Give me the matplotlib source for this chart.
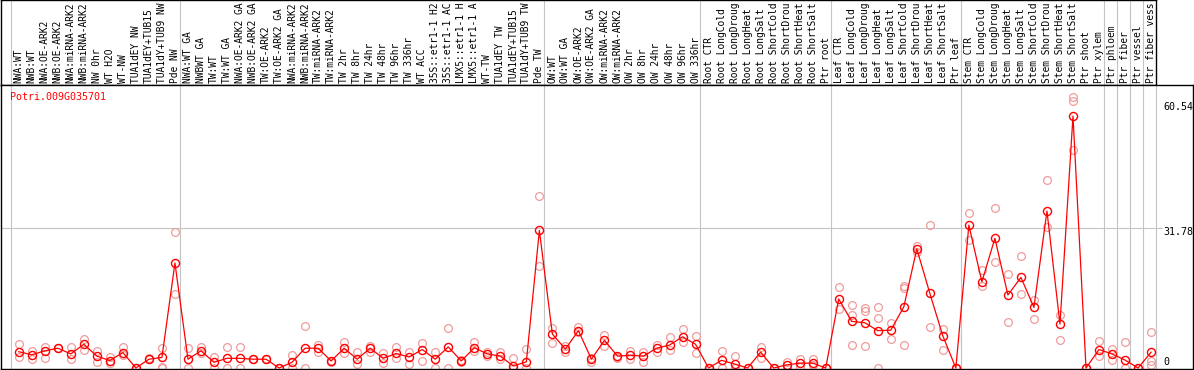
import matplotlib.pyplot as plt

gene = "Potri.009G035701"

# sample names as they show in the header (cut to the header height)
labels = [
    "NWA:WT", "NWB:WT", "NWA:OE-ARK2", "NWB:OE-ARK2", "NWA:miRNA-ARK2", "NWB:miRNA-ARK2",
    "NW 0hr", "WT H2O", "WT-NW", "TUA1dEY NW", "TUA1dEY+TUB15", "TUA1dY+TUB9 NW", "Pde NW",
    "NWA:WT GA", "NWBWT GA", "TW:WT", "TW:WT GA", "NWA:OE-ARK2 GA", "NWB:OE-ARK2 GA",
    "TW:OE-ARK2", "TW:OE-ARK2 GA", "NWA:miRNA-ARK2", "NWB:miRNA-ARK2", "TW:miRNA-ARK2",
    "TW:miRNA-ARK2", "TW 2hr", "TW 8hr", "TW 24hr", "TW 48hr", "TW 96hr", "TW 336hr", "WT ACC",
    "35S::etr1-1 H2", "35S::etr1-1 AC", "LMX5::etr1-1 H", "LMX5::etr1-1 A", "WT-TW",
    "TUA1dEY TW", "TUA1dEY+TUB15", "TUA1dY+TUB9 TW", "Pde TW",
    "OW:WT", "OW:WT GA", "OW:OE-ARK2", "OW:OE-ARK2 GA", "OW:miRNA-ARK2", "OW:miRNA-ARK2",
    "OW 2hr", "OW 8hr", "OW 24hr", "OW 48hr", "OW 96hr", "OW 336hr",
    "Root CTR", "Root LongCold", "Root LongDroug", "Root LongHeat", "Root LongSalt",
    "Root ShortCold", "Root ShortDrou", "Root ShortHeat", "Root ShortSalt", "Ptr root",
    "Leaf CTR", "Leaf LongCold", "Leaf LongDroug", "Leaf LongHeat", "Leaf LongSalt",
    "Leaf ShortCold", "Leaf ShortDrou", "Leaf ShortHeat", "Leaf ShortSalt", "Ptr leaf",
    "Stem CTR", "Stem LongCold", "Stem LongDroug", "Stem LongHeat", "Stem LongSalt",
    "Stem ShortCold", "Stem ShortDrou", "Stem ShortHeat", "Stem ShortSalt", "Ptr shoot",
    "Ptr xylem", "Ptr phloem", "Ptr fiber", "Ptr vessel", "Ptr fiber vess",
]

# mean expression per sample
means = [
    3.7, 3.0, 3.9, 4.5, 3.2, 5.4, 2.7, 1.7, 3.5, 0, 2.0, 2.4, 23.9,
    2.0, 3.9, 1.3, 2.2, 2.2, 2.0, 2.0, 0, 1.3, 4.5, 4.5, 1.6, 4.5, 2.0, 4.5, 2.2,
    3.3, 2.5, 4.2, 2.0, 4.8, 1.6, 4.6, 3.2, 2.7, 0.45, 1.4, 31.3,
    7.7, 4.3, 8.5, 2.0, 6.3, 2.7, 2.9, 2.7, 4.5, 5.2, 7.1, 5.4,
    0, 1.75, 0.9, 0, 3.6, 0, 0.7, 1.1, 1.1, 0,
    15.7, 10.6, 10.3, 8.5, 8.6, 13.9, 27.1, 17.0, 7.3, 0,
    32.5, 19.6, 29.5, 16.6, 20.6, 13.8, 35.7, 10.0, 57.3, 0, 4.2,
    3.2, 1.8, 0, 3.6,
]

# replicate values per sample
reps = [
    [5.5, 2.6], [3.9, 2.0], [4.8, 2.2], [4.5, 4.5], [4.8, 2.0], [6.6, 4.1], [3.9, 1.3],
    [2.4, 1.2], [4.8, 3.0], [0, 0], [2.0, 2.2], [4.6, 0.3, 0], [30.9, 16.8],
    [4.6, 0], [4.8, 3.4], [2.4, 0], [4.8, 0], [4.8, 0], [2.0, 2.0], [2.0, 2.0], [0, 0],
    [3.0, 0], [9.6, 0], [5.2, 3.7], [1.6, 1.4], [5.8, 3.3], [3.7, 0.8], [5.1, 3.7],
    [3.3, 1.1], [4.7, 2.2], [3.7, 0.8], [5.6, 1.7], [3.7, 0], [9.1, 0], [1.8, 1.4],
    [5.8, 3.9], [3.6, 2.7], [3.6, 2.0], [2.2, 0], [4.4, 0], [39.1, 23.3],
    [9.0, 5.6], [5.0, 3.6], [9.3, 8.3], [2.3, 1.4], [7.5, 5.0], [2.6, 2.3], [3.9, 2.0],
    [3.6, 1.4], [5.2, 3.6], [7.1, 4.2], [8.9, 6.0], [7.3, 3.3],
    [0, 0], [3.8, 0], [2.7, 0], [0, 0], [4.7, 2.2], [0, 0], [1.4, 0], [2.0, 0.2],
    [2.0, 0.6], [0, 0],
    [18.5, 13.4], [14.3, 12.0, 5.2], [13.7, 13.0, 5.0], [13.8, 11.4, 0], [10.3, 6.5],
    [18.7, 18.2, 5.2], [27.8, 26.5], [32.5, 9.4], [8.8, 4.2], [0, 0],
    [35.2, 29.1], [22.3, 18.7], [36.4, 24.1], [21.4, 10.5], [25.5, 16.8], [15.5, 11.2],
    [42.8, 32.1], [12.0, 6.4], [61.6, 60.8, 49.7], [0, 0], [6.1, 2.7],
    [4.4, 1.8], [5.9, 0], [0, 0], [8.1, 1.6, 0.7],
]

groups = [0, 13, 41, 53, 63, 73, 84, 85, 86, 87, 88]
y_marks = ["0", "31.78", "60.54"]

W, H = 1194, 370
col = 13.015  # pixels per sample
x0 = 10.7     # pixel of first boundary
off = 0.62
mono = "DejaVu Sans Mono"
grey = "#c4c4c4"


def box(l, t, r, b):
    return [l / W, 1 - b / H, (r - l) / W, (b - t) / H]


fig = plt.figure(figsize=(W / 100, H / 100), dpi=100)

# header with sample names
hd = fig.add_axes(box(1, 0, 1156, 85))
hd.set_xlim((1 - x0) / col, 88)
hd.set_ylim(0, 1)
hd.set_xticks([])
hd.set_yticks([])
for s in hd.spines.values():
    s.set_linewidth(1.0)
for b in groups[:-1]:
    hd.axvline(b, color=grey, lw=0.8)
for i, lab in enumerate(labels):
    hd.text(i + off, 0.025, lab, rotation=90, ha="center", va="bottom",
            family=mono, fontsize=6.9)

# main plot
ax = fig.add_axes(box(1, 85, 1193, 369))
ax.set_xlim((1 - x0) / col, (1193 - x0) / col)
ax.set_ylim(-0.23, 64.38)
ax.set_xticks([])
ax.set_yticks([])
for s in ax.spines.values():
    s.set_linewidth(1.0)
for b in groups:
    ax.axvline(b, color=grey, lw=0.8)
ax.hlines(float(y_marks[1]), (1 - x0) / col, (1162 - x0) / col, color=grey, lw=0.8)

xs = [i + off for i in range(len(means))]
for x, r in zip(xs, reps):
    ax.plot([x] * len(r), r, "o", mfc="none", mec="#f09c9c", ms=5.6, mew=0.9, clip_on=False)
ax.plot(xs, means, "-", color="red", lw=0.9)
ax.plot(xs, means, "o", mfc="none", mec="red", ms=5.8, mew=1.0, clip_on=False)

fig.text(10 / W, 1 - 97 / H, gene, color="red", ha="left", va="center",
         family=mono, fontsize=7.2)
for lab, py in zip(y_marks, [362.3, 231.7, 106.7]):
    fig.text(1163 / W, 1 - py / H, lab, ha="left", va="center", family=mono, fontsize=7.2)

fig.savefig("out.png", dpi=100)
